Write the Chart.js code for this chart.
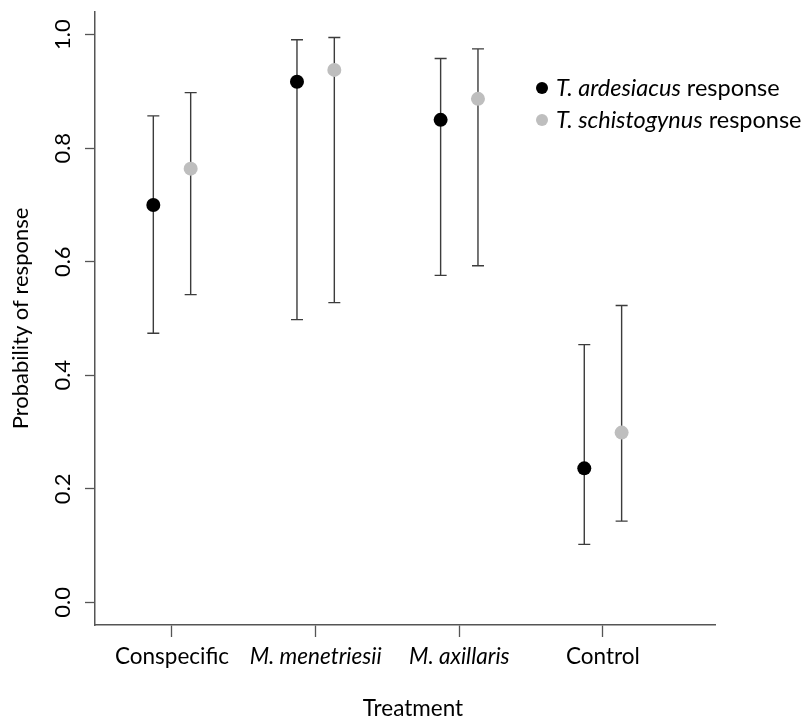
<!DOCTYPE html>
<html>
<head>
<meta charset="utf-8">
<script src="https://cdn.jsdelivr.net/npm/chart.js@4.4.1/dist/chart.umd.min.js"></script>
<style>
  html, body { margin: 0; padding: 0; background: #ffffff; }
  #wrap { width: 804px; height: 718px; position: relative; }
</style>
</head>
<body>
<div id="wrap"><canvas id="c"></canvas></div>
<script>
// ---- data ----
const categories = ["Conspecific", "M. menetriesii", "M. axillaris", "Control"];
const categoryItalic = [false, true, true, false];
const ardesiacusMean  = [0.700, 0.917, 0.850, 0.236];
const ardesiacusLower = [0.474, 0.498, 0.576, 0.102];
const ardesiacusUpper = [0.857, 0.991, 0.958, 0.454];
const schistoMean  = [0.764, 0.938, 0.887, 0.299];
const schistoLower = [0.542, 0.528, 0.593, 0.143];
const schistoUpper = [0.898, 0.995, 0.975, 0.523];
const yTickValues = [0.0, 0.2, 0.4, 0.6, 0.8, 1.0];
const yTickLabels = ["0.0", "0.2", "0.4", "0.6", "0.8", "1.0"];
const legendItalic = ["T. ardesiacus", "T. schistogynus"];
const legendRest = " response";
const xTitle = "Treatment";
const yTitle = "Probability of response";

const FONT = "Lato, 'Open Sans', sans-serif";
const FS = 22;
const XFS = 22.5;
const LFS = 23.5;
const OFFSET = 0.13;
const BLACK = "#000000";
const GREY = "#bebebe";
const BAR = "#3c3c3c";

function pts(mean, off) {
  return mean.map((v, i) => ({ x: i + 1 + off, y: v }));
}

const errorBars = {
  id: "errorBars",
  beforeDatasetsDraw(chart) {
    const ctx = chart.ctx, xs = chart.scales.x, ys = chart.scales.y;
    const sets = [
      [ardesiacusLower, ardesiacusUpper, -OFFSET],
      [schistoLower, schistoUpper, OFFSET]
    ];
    ctx.save();
    ctx.strokeStyle = BAR;
    ctx.lineWidth = 1.4;
    sets.forEach(([lo, hi, off]) => {
      lo.forEach((l, i) => {
        const px = xs.getPixelForValue(i + 1 + off);
        const pl = ys.getPixelForValue(l);
        const ph = ys.getPixelForValue(hi[i]);
        ctx.beginPath();
        ctx.moveTo(px, pl); ctx.lineTo(px, ph);
        ctx.moveTo(px - 6, pl); ctx.lineTo(px + 6, pl);
        ctx.moveTo(px - 6, ph); ctx.lineTo(px + 6, ph);
        ctx.stroke();
      });
    });
    ctx.restore();
  }
};

const extraText = {
  id: "extraText",
  afterDraw(chart) {
    const ctx = chart.ctx, ys = chart.scales.y, ca = chart.chartArea;
    ctx.save();
    ctx.fillStyle = "#000";
    ctx.font = FS + "px " + FONT;
    ctx.textAlign = "center";
    ctx.textBaseline = "alphabetic";
    // y tick labels, rotated
    yTickValues.forEach((v, i) => {
      const py = ys.getPixelForValue(v);
      ctx.save();
      ctx.translate(70, py);
      ctx.rotate(-Math.PI / 2);
      ctx.fillText(yTickLabels[i], 0, 0);
      ctx.restore();
    });
    // y title
    ctx.save();
    ctx.translate(28, (ca.top + ca.bottom) / 2);
    ctx.rotate(-Math.PI / 2);
    ctx.fillText(yTitle, 0, 0);
    ctx.restore();
    // x title
    ctx.font = XFS + "px " + FONT;
    ctx.fillText(xTitle, (ca.left + ca.right) / 2 + 8, 716);
    // legend
    const rows = [[BLACK, 88], [GREY, 120]];
    rows.forEach(([col, y], i) => {
      ctx.fillStyle = col;
      ctx.beginPath();
      ctx.arc(542, y, 6, 0, Math.PI * 2);
      ctx.fill();
      ctx.fillStyle = "#000";
      ctx.textAlign = "left";
      ctx.textBaseline = "middle";
      ctx.font = "italic " + LFS + "px " + FONT;
      ctx.fillText(legendItalic[i], 556, y);
      const w = ctx.measureText(legendItalic[i]).width;
      ctx.font = LFS + "px " + FONT;
      ctx.fillText(legendRest, 556 + w, y);
    });
    ctx.restore();
  }
};

new Chart(document.getElementById("c"), {
  type: "scatter",
  data: {
    datasets: [
      { label: "T. ardesiacus response", data: pts(ardesiacusMean, -OFFSET),
        backgroundColor: BLACK, borderWidth: 0, pointRadius: 7, pointHoverRadius: 7 },
      { label: "T. schistogynus response", data: pts(schistoMean, OFFSET),
        backgroundColor: GREY, borderWidth: 0, pointRadius: 7, pointHoverRadius: 7 }
    ]
  },
  options: {
    responsive: true,
    maintainAspectRatio: false,
    animation: false,
    devicePixelRatio: 1,
    layout: { padding: { top: 12, right: 89, left: 0, bottom: 0 } },
    plugins: { legend: { display: false }, tooltip: { enabled: false } },
    scales: {
      x: {
        type: "linear",
        min: 0.464, max: 4.78,
        afterBuildTicks(scale) { scale.ticks = categories.map((c, i) => ({ value: i + 1 })); },
        afterFit(scale) { scale.height = 93; },
        grid: { drawOnChartArea: false, drawTicks: true, tickLength: 12, tickColor: "#555", tickWidth: 1.3 },
        border: { display: true, color: "#555", width: 1.5 },
        ticks: {
          autoSkip: false, maxRotation: 0, minRotation: 0, padding: 6, color: "#000",
          font: (ctx) => ({ family: FONT, size: XFS, style: categoryItalic[ctx.index] ? "italic" : "normal" }),
          callback: (v) => categories[Math.round(v) - 1]
        }
      },
      y: {
        type: "linear",
        min: -0.04, max: 1.04,
        afterBuildTicks(scale) { scale.ticks = yTickValues.map(v => ({ value: v })); },
        afterFit(scale) { scale.width = 95; },
        grid: { drawOnChartArea: false, drawTicks: true, tickLength: 10, tickColor: "#555", tickWidth: 1.3 },
        border: { display: true, color: "#555", width: 1.5 },
        ticks: { display: false }
      }
    }
  },
  plugins: [errorBars, extraText]
});
</script>
</body>
</html>
